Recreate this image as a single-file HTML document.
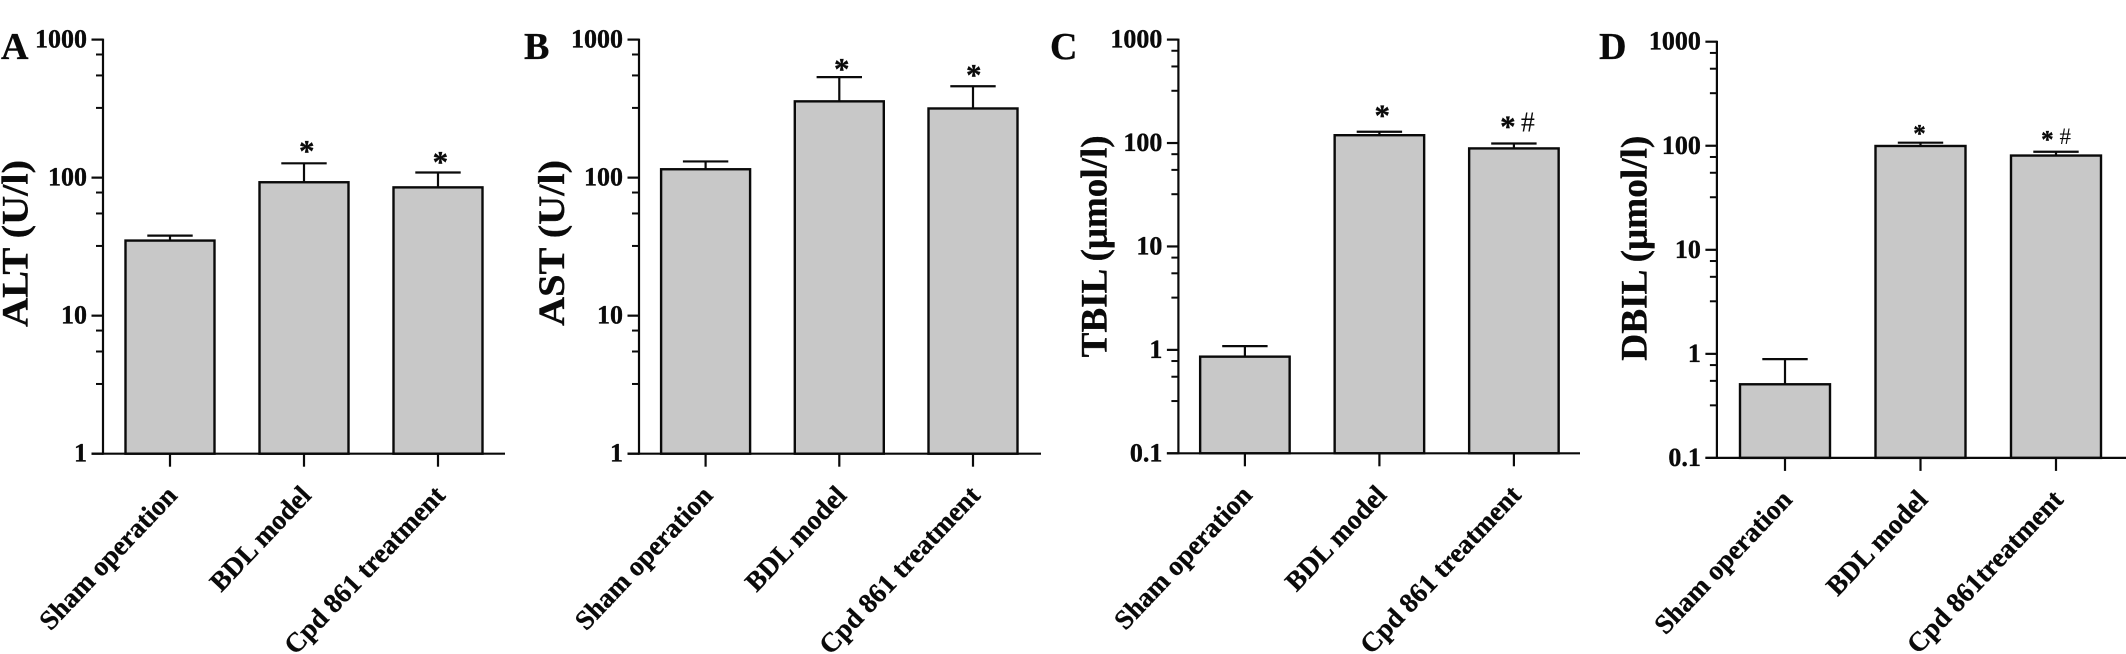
<!DOCTYPE html>
<html lang="en">
<head>
<meta charset="utf-8">
<title>Serum liver markers by treatment group</title>
<style>
html,body{margin:0;padding:0;background:#fff;width:2126px;height:654px;overflow:hidden}
svg{display:block}
text{font-family:"Liberation Serif",serif;fill:#0a0a0a}
.b{font-weight:bold;stroke:#0a0a0a;stroke-width:.35px}
</style>
</head>
<body>
<svg id="figure" xmlns="http://www.w3.org/2000/svg" width="2126" height="654" viewBox="0 0 2126 654"></svg>
<script>
// ---- chart data ----
const categories = ["Sham operation", "BDL model", "Cpd 861 treatment"];
const categoriesD = ["Sham operation", "BDL model", "Cpd 861treatment"];
const yTickLabelsAB = ["1", "10", "100", "1000"];
const yTickLabelsCD = ["0.1", "1", "10", "100", "1000"];
const minorMultipliers = [3.2, 5.5, 7.8];

const altValues = [35, 92.6, 85];
const altErrorTops = [38, 127, 109];
const astValues = [115, 357, 317];
const astErrorTops = [131, 535, 459];
const tbilValues = [0.86, 119, 88.7];
const tbilErrorTops = [1.087, 128.5, 99];
const dbilValues = [0.51, 99.5, 80.5];
const dbilErrorTops = [0.89, 107, 87.5];

const altMarks = ["", "*", "*"];
const astMarks = ["", "*", "*"];
const tbilMarks = ["", "*", "*#"];
const dbilMarks = ["", "*", "*#"];

// ---- panel layout ----
const panels = [
  {key:"alt", letter:"A", lx:1, title:"ALT (U/l)", titleX:27.7, titleY1:327, titleLen:167,
   values:altValues, errs:altErrorTops, marks:altMarks, cats:categories, ticks:yTickLabelsAB,
   axisX:103, yTop:39.6, yBottom:453.7, xEnd:505, first:170, step:134, barW:89,
   starSize:31, hashSize:28, markDy:[0,16.7,15], starDx:[0,2.7,2.4], hashDx:0},
  {key:"ast", letter:"B", lx:524, title:"AST (U/l)", titleX:564, titleY1:326, titleLen:166,
   values:astValues, errs:astErrorTops, marks:astMarks, cats:categories, ticks:yTickLabelsAB,
   axisX:639, yTop:39.6, yBottom:453.7, xEnd:1041, first:705.6, step:133.7, barW:89,
   starSize:31, hashSize:28, markDy:[0,12.5,16], starDx:[0,2.4,0.7], hashDx:0},
  {key:"tbil", letter:"C", lx:1050, title:"TBIL (\u03bcmol/l)", titleX:1106.5, titleY1:357.4, titleLen:222,
   values:tbilValues, errs:tbilErrorTops, marks:tbilMarks, cats:categories, ticks:yTickLabelsCD,
   axisX:1178.4, yTop:39.6, yBottom:453.3, xEnd:1580, first:1244.9, step:134.5, barW:89.5,
   starSize:31, hashSize:28, markDy:[0,21,21.7], starDx:[0,2.8,-6], hashDx:14},
  {key:"dbil", letter:"D", lx:1599, title:"DBIL (\u03bcmol/l)", titleX:1646.3, titleY1:360.7, titleLen:225,
   values:dbilValues, errs:dbilErrorTops, marks:dbilMarks, cats:categoriesD, ticks:yTickLabelsCD,
   axisX:1716.9, yTop:41.7, yBottom:457.9, xEnd:2126, first:1785, step:135.5, barW:90,
   starSize:25, hashSize:23, markDy:[0,13,15.8], starDx:[0,-1,-8.6], hashDx:9.3}
];

const svg = document.getElementById("figure");
const NS = "http://www.w3.org/2000/svg";
function make(tag, attrs, parent, txt) {
  const el = document.createElementNS(NS, tag);
  for (const k in attrs) el.setAttribute(k, attrs[k]);
  if (txt !== undefined) el.textContent = txt;
  parent.appendChild(el);
  return el;
}

function drawPanel(p) {
  const g = make("g", {}, svg);
  
  

  const tickVals = p.ticks.map(Number);
  const lo = Math.log10(tickVals[0]);
  const hi = Math.log10(tickVals[tickVals.length - 1]);
  const yScale = v => p.yBottom - (Math.log10(v) - lo) / (hi - lo) * (p.yBottom - p.yTop);
  const xScale = i => p.first + i * p.step;

  const letter = make("text", {x:p.lx, y:59, "font-size":38, "class":"b"}, g, p.letter);
  
  

  const title = make("text", {x:0, y:0, "font-size":37, "class":"b",
    transform:"translate(" + p.titleX + " " + p.titleY1 + ") rotate(-90)",
    textLength:p.titleLen, lengthAdjust:"spacingAndGlyphs"}, g, p.title);
  
  

  // bars and error bars
  p.values.forEach((v, i) => {
    const cx = xScale(i);
    const top = yScale(v);
    const errY = yScale(p.errs[i]);
    const stem = make("line", {x1:cx, x2:cx, y1:top, y2:errY, stroke:"#0a0a0a", "stroke-width":2.2}, g);
    
    
    const cap = make("line", {x1:cx - 22.7, x2:cx + 22.7, y1:errY, y2:errY, stroke:"#0a0a0a", "stroke-width":2.2}, g);
    
    
    const bar = make("rect", {x:cx - p.barW / 2, y:top, width:p.barW, height:p.yBottom - top,
      fill:"#c8c8c8", stroke:"#0a0a0a", "stroke-width":2.4}, g);
    
    

    // significance marks
    const mark = p.marks[i];
    if (mark.includes("*")) {
      const star = make("text", {x:cx + p.starDx[i], y:errY - p.markDy[i] + p.starSize * 0.47,
        "font-size":p.starSize, "text-anchor":"middle", "class":"b"}, g, "*");
      
      
    }
    if (mark.includes("#")) {
      const hash = make("text", {x:cx + p.hashDx, y:errY - p.markDy[i] + p.hashSize * 0.34,
        "font-size":p.hashSize, "text-anchor":"middle"}, g, "#");
      
      
    }

    // category tick + label
    const tick = make("line", {x1:cx, x2:cx, y1:p.yBottom, y2:p.yBottom + 13, stroke:"#0a0a0a", "stroke-width":2.2}, g);
    
    
    const lab = make("text", {x:0, y:0, "font-size":27.3, "class":"b", "text-anchor":"end",
      transform:"translate(" + (cx + 8.5) + " " + (p.yBottom + 43) + ") rotate(-46.5)"}, g, p.cats[i]);
    
    
  });

  // y axis ticks
  p.ticks.forEach((t, i) => {
    const val = tickVals[i];
    const y = yScale(val);
    const major = make("line", {x1:p.axisX - 11.5, x2:p.axisX, y1:y, y2:y, stroke:"#0a0a0a", "stroke-width":2.2}, g);
    
    
    const lab = make("text", {x:p.axisX - 16, y:y + 8, "font-size":26, "class":"b", "text-anchor":"end"}, g, t);
    
    
    if (i < p.ticks.length - 1) {
      minorMultipliers.forEach(m => {
        const my = yScale(val * m);
        const minor = make("line", {x1:p.axisX - 7, x2:p.axisX, y1:my, y2:my, stroke:"#0a0a0a", "stroke-width":2}, g);
        
        
      });
    }
  });

  // axes
  const yAxis = make("line", {x1:p.axisX, x2:p.axisX, y1:p.yTop - 1, y2:p.yBottom + 1, stroke:"#0a0a0a", "stroke-width":2.2}, g);
  
  
  const xAxis = make("line", {x1:p.axisX - 11.5, x2:p.xEnd, y1:p.yBottom, y2:p.yBottom, stroke:"#0a0a0a", "stroke-width":2.2}, g);
  
  
}

panels.forEach(drawPanel);
</script>
</body>
</html>
